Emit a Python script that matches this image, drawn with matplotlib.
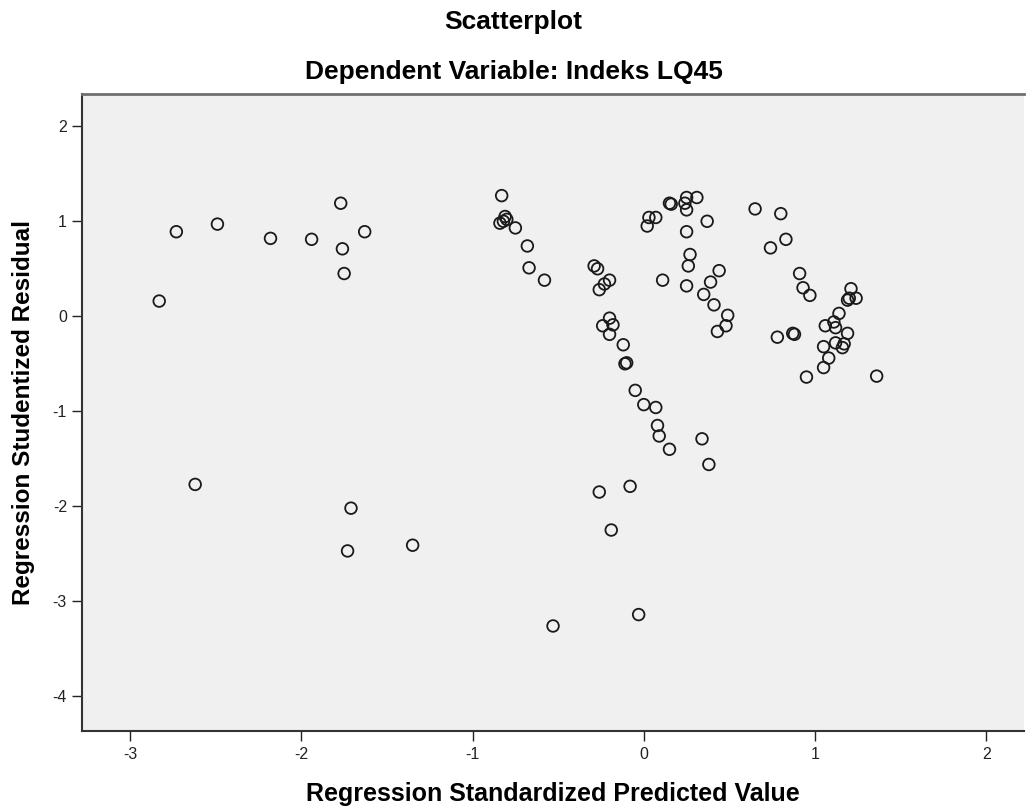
import matplotlib
matplotlib.use("Agg")
import matplotlib.pyplot as plt

# regression standardized predicted value (x) vs studentized residual (y)
pred_value = [
    -2.83, -2.73, -2.49, -2.18, -1.94, -1.77, -1.63, -1.76, -1.75,
    -2.62, -1.71, -1.73, -1.35,
    -0.83, -0.81, -0.82, -0.84, -0.80, -0.75, -0.68, -0.67, -0.58,
    -0.29, -0.27, -0.20, -0.23, -0.26, -0.20, -0.18, -0.24, -0.20,
    -0.12, -0.10, -0.11, -0.05, 0.00, 0.07, 0.08, 0.09, 0.15, 0.34, 0.38,
    -0.26, -0.08, -0.19, -0.53, -0.03,
    0.03, 0.07, 0.02, 0.15, 0.16, 0.25, 0.31, 0.24, 0.25, 0.37, 0.25,
    0.27, 0.26, 0.11, 0.25, 0.44, 0.39, 0.35, 0.41, 0.49, 0.48, 0.43,
    0.65, 0.80, 0.83, 0.74, 0.91, 0.93, 0.97, 0.78, 0.87, 0.88, 0.95, 1.36,
    1.21, 1.19, 1.24, 1.20, 1.14, 1.06, 1.11, 1.12, 1.19, 1.12, 1.17,
    1.16, 1.05, 1.08, 1.05,
]
stud_resid = [
    0.16, 0.89, 0.97, 0.82, 0.81, 1.19, 0.89, 0.71, 0.45,
    -1.77, -2.02, -2.47, -2.41,
    1.27, 1.05, 1.00, 0.98, 1.02, 0.93, 0.74, 0.51, 0.38,
    0.53, 0.50, 0.38, 0.34, 0.28, -0.02, -0.09, -0.10, -0.19,
    -0.30, -0.49, -0.50, -0.78, -0.93, -0.96, -1.15, -1.26, -1.40, -1.29, -1.56,
    -1.85, -1.79, -2.25, -3.26, -3.14,
    1.04, 1.04, 0.95, 1.19, 1.18, 1.25, 1.25, 1.19, 1.12, 1.00, 0.89,
    0.65, 0.53, 0.38, 0.32, 0.48, 0.36, 0.23, 0.12, 0.01, -0.10, -0.16,
    1.13, 1.08, 0.81, 0.72, 0.45, 0.30, 0.22, -0.22, -0.18, -0.19, -0.64, -0.63,
    0.29, 0.17, 0.19, 0.19, 0.03, -0.10, -0.06, -0.12, -0.18, -0.28, -0.29,
    -0.33, -0.32, -0.44, -0.54,
]
x_ticks = [-3, -2, -1, 0, 1, 2]
y_ticks = [-4, -3, -2, -1, 0, 1, 2]

plt.rcParams["font.family"] = ["Liberation Sans", "DejaVu Sans"]
plt.rcParams["axes.unicode_minus"] = False   # SPSS uses a plain hyphen

fig = plt.figure(figsize=(10.27, 8.10), dpi=100)
ax = fig.add_axes([0.080, 0.097, 0.917, 0.787])
ax.set_facecolor("#F0F0F0")

ax.scatter(pred_value, stud_resid, s=70, facecolors="none",
           edgecolors="#1a1a1a", linewidths=1.3, zorder=3)

ax.set_xlim(-3.28, 2.22)
ax.set_ylim(-4.37, 2.34)
ax.set_xticks(x_ticks)
ax.set_yticks(y_ticks)
ax.tick_params(direction="out", length=7, width=1, labelsize=11.5,
               colors="#222222", pad=4)
for lbl in ax.get_xticklabels() + ax.get_yticklabels():
    lbl.set_family(["Liberation Sans Narrow", "Liberation Sans"])

for side in ["left", "bottom"]:
    ax.spines[side].set_color("#333333")
    ax.spines[side].set_linewidth(1.5)
ax.spines["top"].set_color("#707070")
ax.spines["top"].set_linewidth(2)
ax.spines["right"].set_visible(False)

ax.set_xlabel("Regression Standardized Predicted Value", fontsize=18,
              fontweight="bold", va="center")
ax.xaxis.set_label_coords(0.5, -0.098)
ax.set_ylabel("Regression Studentized Residual", fontsize=17.5,
              fontweight="bold", va="center")
ax.yaxis.set_label_coords(-0.062, 0.5)

fig.text(0.5, 0.973, "Scatterplot", ha="center", va="center",
         fontsize=19, fontweight="bold")
fig.text(0.5, 0.911, "Dependent Variable: Indeks LQ45", ha="center",
         va="center", fontsize=19, fontweight="bold")

fig.savefig("out.png", dpi=100)
